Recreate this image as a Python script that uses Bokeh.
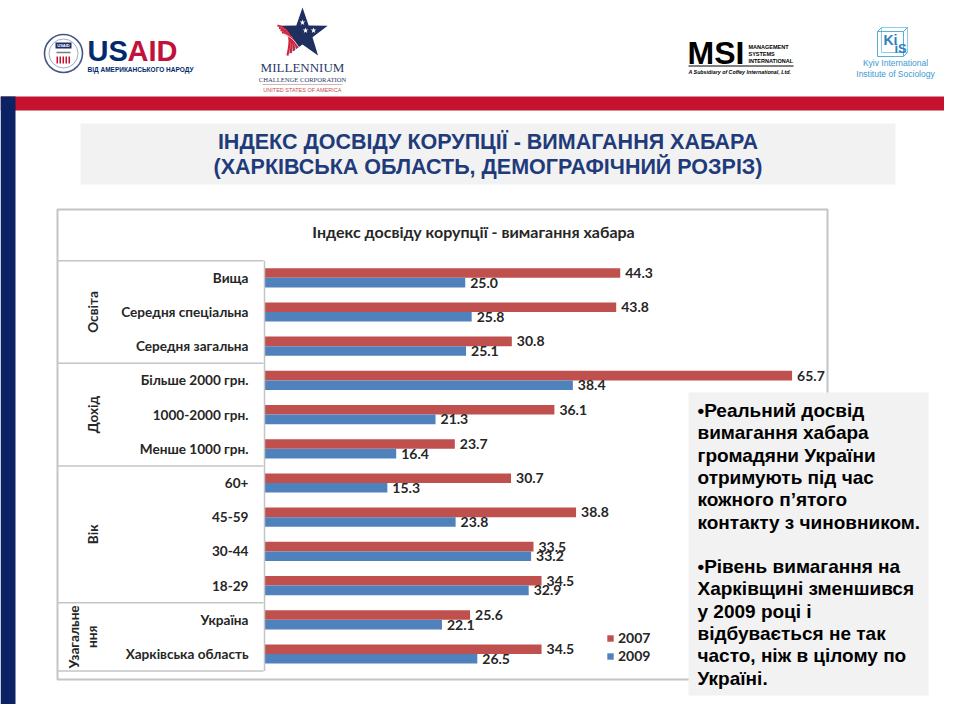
import numpy as np
from bokeh.plotting import figure
from bokeh.models import Range1d, ColumnDataSource, Legend, LegendItem
from bokeh.transform import dodge
from bokeh.core.properties import value
from bokeh.embed import file_html
from bokeh.resources import INLINE

# ---------------- data ----------------
categories = ["Вища", "Середня спеціальна", "Середня загальна",
              "Більше 2000 грн.", "1000-2000 грн.", "Менше 1000 грн.",
              "60+", "45-59", "30-44", "18-29",
              "Україна", "Харківська область"]
values_2007 = [44.3, 43.8, 30.8, 65.7, 36.1, 23.7, 30.7, 38.8, 33.5, 34.5, 25.6, 34.5]
values_2009 = [25.0, 25.8, 25.1, 38.4, 21.3, 16.4, 15.3, 23.8, 33.2, 32.9, 22.1, 26.5]
groups = ["Освіта", "Дохід", "Вік", "Узагальне\nння"]
group_sizes = [3, 3, 4, 2]
series_names = ["2007", "2009"]
chart_title = "Індекс досвіду корупції - вимагання хабара"
slide_title = ["ІНДЕКС ДОСВІДУ КОРУПЦІЇ - ВИМАГАННЯ ХАБАРА",
               "(ХАРКІВСЬКА ОБЛАСТЬ, ДЕМОГРАФІЧНИЙ РОЗРІЗ)"]
note_lines = ["•Реальний досвід", "вимагання хабара", "громадяни України",
              "отримують під час", "кожного п’ятого", "контакту з чиновником.",
              "", "•Рівень вимагання на", "Харківщині зменшився", "у 2009 році і",
              "відбувається не так", "часто, ніж в цілому по", "Україні."]

RED = "#C0504D"
BLUE = "#4F81BD"
TXT = "#262626"
CF = value("Lato")
SF = value("Liberation Sans")

W, H = 944, 704
p = figure(width=W, height=H, output_backend="svg", toolbar_location=None,
           x_range=Range1d(0, W), y_range=Range1d(H, 0),
           x_axis_location=None, y_axis_location=None, min_border=0)
p.grid.visible = False
p.outline_line_color = None
p.background_fill_color = "white"
p.border_fill_color = "white"

# scale calibration for the bar chart (value axis and row axis)
X0, PPU = 264.0, 8.03
Y0, ROW = 277.3, 34.2
p.extra_x_ranges = {"val": Range1d((0 - X0) / PPU, (W - X0) / PPU)}
p.extra_y_ranges = {"rows": Range1d((H - Y0) / ROW, (0 - Y0) / ROW)}

# ---------------- slide decorations ----------------
p.quad(left=0, right=960, top=96, bottom=110, fill_color="#C4122F", line_color=None)
p.quad(left=0, right=15, top=96, bottom=720, fill_color="#0B2265", line_color=None)

# USAID logo
p.circle(x=63, y=53, radius=19, fill_color="white", line_color="#44558A", line_width=1.6)
p.circle(x=63, y=53, radius=14.5, fill_color=None, line_color="#8A96B8", line_width=0.8)
p.quad(left=55, right=71, top=42, bottom=48, fill_color="#1C2E6B", line_color=None)
p.text(x=63, y=45, text=["USAID"], text_align="center", text_baseline="middle",
       text_font=SF, text_font_size="4px", text_font_style="bold", text_color="white")
p.segment(x0=56, y0=52, x1=70, y1=52, line_color="#7A7A7A", line_width=1.5)
for i in range(5):
    p.quad(left=56 + i * 3, right=57.5 + i * 3, top=56, bottom=63,
           fill_color="#C4122F", line_color=None)
p.text(x=87, y=50, text=["US"], text_baseline="middle", text_font=SF,
       text_font_size="29px", text_font_style="bold", text_color="#002A6C")
p.text(x=127, y=50, text=["AID"], text_baseline="middle", text_font=SF,
       text_font_size="29px", text_font_style="bold", text_color="#C2113A")
p.text(x=87, y=69, text=["ВІД АМЕРИКАНСЬКОГО НАРОДУ"], text_baseline="middle",
       text_font=SF, text_font_size="6.5px", text_font_style="bold", text_color="#002A6C")

# Millennium Challenge Corporation logo
ang = np.pi / 2 + np.arange(10) * np.pi / 5
rad = np.where(np.arange(10) % 2 == 0, 26.5, 10.5)
p.patch(x=302 + rad * np.cos(ang), y=33.5 - rad * np.sin(ang),
        fill_color="#1F2F60", line_color=None)
for k in range(4):
    p.bezier(x0=277 + k * 1.5, y0=25 + k * 2.2, x1=287 + k * 3.2, y1=55 - k * 2.5,
             cx0=292, cy0=29 + k * 2, cx1=290 + k * 2, cy1=42 + k,
             line_color="#D2233C", line_width=2.2)
    p.bezier(x0=278 + k * 1.5, y0=26.5 + k * 2.2, x1=288.5 + k * 3.2, y1=54 - k * 2.5,
             cx0=293, cy0=30.5 + k * 2, cx1=291.5 + k * 2, cy1=43 + k,
             line_color="white", line_width=0.8)
p.scatter(x=[302, 305, 313], y=[22, 30, 30], marker="star", size=6,
          fill_color="white", line_color=None)
p.text(x=302, y=67, text=["MILLENNIUM"], text_align="center", text_baseline="middle",
       text_font=value("Liberation Serif"), text_font_size="13px", text_color="#2B3A67")
p.text(x=302, y=79, text=["CHALLENGE CORPORATION"], text_align="center",
       text_baseline="middle", text_font=value("Liberation Serif"),
       text_font_size="6.6px", text_color="#2B3A67")
p.segment(x0=262, y0=84, x1=342, y1=84, line_color="#C9A0A8", line_width=0.8)
p.text(x=302, y=89, text=["UNITED STATES OF AMERICA"], text_align="center",
       text_baseline="middle", text_font=SF, text_font_size="5.5px", text_color="#C0504D")

# MSI logo
p.text(x=687, y=52, text=["MSI"], text_baseline="middle", text_font=SF,
       text_font_size="32px", text_font_style="bold", text_color="black")
for j, t in enumerate(["MANAGEMENT", "SYSTEMS", "INTERNATIONAL"]):
    p.text(x=748, y=46 + j * 7, text=[t], text_baseline="middle", text_font=SF,
           text_font_size="5.5px", text_font_style="bold", text_color="black")
p.segment(x0=688, y0=65.5, x1=793, y1=65.5, line_color="black", line_width=1)
p.text(x=688, y=71, text=["A Subsidiary of Coffey International, Ltd."],
       text_baseline="middle", text_font=SF, text_font_size="5.3px",
       text_font_style="bold italic", text_color="black")

# KIIS logo
p.quad(left=881, right=907, top=27, bottom=52, fill_color=None, line_color="#8CCBE6", line_width=1)
p.quad(left=877, right=903, top=31, bottom=56, fill_color=None, line_color="#5AAFD8", line_width=1)
p.segment(x0=[877, 903, 903], y0=[31, 31, 56], x1=[881, 907, 907], y1=[27, 27, 52],
          line_color="#5AAFD8", line_width=1)
p.text(x=883, y=39, text=["Ki"], text_baseline="middle", text_font=SF,
       text_font_size="14px", text_font_style="bold", text_color="#2E7FC0")
p.text(x=894, y=48, text=["iS"], text_baseline="middle", text_font=SF,
       text_font_size="13px", text_font_style="bold", text_color="#2E7FC0")
p.text(x=895, y=[62, 73], text=["Kyiv International", "Institute of Sociology"],
       text_align="center", text_baseline="middle", text_font=SF,
       text_font_size="8.5px", text_color="#3A9BD0")

# slide title
p.quad(left=80, right=895, top=123, bottom=184, fill_color="#F2F2F2", line_color=None)
p.text(x=487.5, y=[141, 166], text=slide_title, text_align="center", text_baseline="middle",
       text_font=SF, text_font_size="21.5px", text_font_style="bold", text_color="#1F3B7A")

# ---------------- chart ----------------
p.quad(left=57, right=827, top=209, bottom=679, fill_color="white",
       line_color="#C4C4C4", line_width=2)
p.text(x=473, y=231, text=[chart_title], text_align="center", text_baseline="middle",
       text_font=CF, text_font_size="16px", text_font_style="bold", text_color=TXT)

n = len(categories)
src = ColumnDataSource(dict(
    row=np.arange(n), cat=categories, v07=values_2007, v09=values_2009,
    l07=[f"{v:.1f}" for v in values_2007], l09=[f"{v:.1f}" for v in values_2009]))

r07 = p.hbar(y=dodge("row", -0.14), left=0, right="v07", height=0.28, source=src,
             fill_color=RED, line_color=None, x_range_name="val", y_range_name="rows")
r09 = p.hbar(y=dodge("row", 0.14), left=0, right="v09", height=0.28, source=src,
             fill_color=BLUE, line_color=None, x_range_name="val", y_range_name="rows")
for fld, off in (("07", -0.14), ("09", 0.14)):
    p.text(x="v" + fld, y=dodge("row", off), text="l" + fld, source=src, x_offset=5,
           text_baseline="middle", text_font=CF, text_font_size="14px",
           text_font_style="bold", text_color=TXT, x_range_name="val", y_range_name="rows")

# category labels
p.text(x=248, y="row", text="cat", source=src, text_align="right", text_baseline="middle",
       text_font=CF, text_font_size="13.6px", text_font_style="bold", text_color=TXT,
       y_range_name="rows")

# group labels and separators
sizes = np.array(group_sizes)
starts = np.concatenate([[0], np.cumsum(sizes)[:-1]])
centers = starts + (sizes - 1) / 2
nlines = np.array([g.count("\n") + 1 for g in groups])
p.text(x=92 - (nlines - 1) * 9.5, y=centers, text=groups, angle=np.pi / 2,
       text_align="center", text_baseline="middle", text_line_height=1.15,
       text_font=CF, text_font_size="13.6px", text_font_style="bold", text_color=TXT,
       y_range_name="rows")
bounds = np.concatenate([[-0.5], np.cumsum(sizes) - 0.5])
p.segment(x0=57, x1=263, y0=bounds, y1=bounds, line_color="#C4C4C4", line_width=1.5,
          y_range_name="rows")
p.segment(x0=0, x1=0, y0=-0.5, y1=n - 0.5, line_color="#C4C4C4", line_width=1.5,
          x_range_name="val", y_range_name="rows")

legend = Legend(items=[LegendItem(label=series_names[0], renderers=[r07]),
                       LegendItem(label=series_names[1], renderers=[r09])],
                location=(606, 40), orientation="vertical", glyph_width=8, glyph_height=8,
                label_height=8, spacing=1, padding=0, margin=0, label_standoff=4,
                label_text_font="Lato", label_text_font_size="14px",
                label_text_font_style="bold", label_text_color=TXT,
                background_fill_alpha=0, border_line_color=None)
p.add_layout(legend)

# ---------------- note box ----------------
p.quad(left=688, right=928, top=392, bottom=695, fill_color="#F2F2F2", line_color=None)
note_y = 410 + 22.3 * np.arange(len(note_lines))
p.text(x=697, y=note_y, text=note_lines, text_baseline="middle",
       text_font=SF, text_font_size="19px", text_font_style="bold", text_color="black")

open("out.html", "w").write(file_html(p, INLINE))
